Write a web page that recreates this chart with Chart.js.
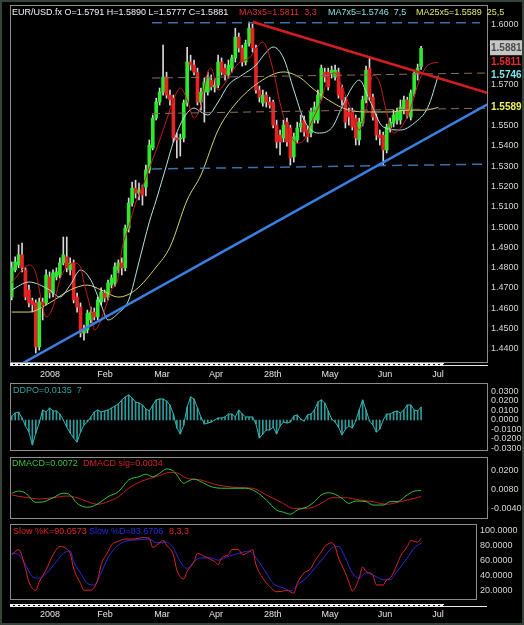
<!DOCTYPE html>
<html>
<head>
<meta charset="utf-8">
<title>EUR/USD.fx</title>
<script src="https://cdn.jsdelivr.net/npm/chart.js@4.4.1/dist/chart.umd.min.js"></script>
<style>
  html, body { margin: 0; padding: 0; background: #000; }
  #wrap { position: relative; width: 524px; height: 625px; background: #000; overflow: hidden; }
  #wrap canvas { position: absolute; left: 0; }
  .t { position: absolute; font: 9px "Liberation Sans", Arial, sans-serif; line-height: 10px; white-space: pre; }
  #edge { position: absolute; left: 0; top: 0; right: 0; bottom: 0; border: 2px solid #34443a; pointer-events: none; }
</style>
</head>
<body>
<div id="wrap">
  <canvas id="cMain" width="524" height="382" style="top:0px"></canvas>
  <canvas id="cDpo" width="524" height="75" style="top:380px"></canvas>
  <canvas id="cMacd" width="524" height="66" style="top:455px"></canvas>
  <canvas id="cStoch" width="524" height="105" style="top:520px"></canvas>

  <div class="t" style="left:12px;top:7px;color:#f2f2f2">EUR/USD.fx O=1.5791 H=1.5890 L=1.5777 C=1.5881</div>
  <div class="t" style="left:239px;top:7px;color:#e03030">MA3x5=1.5811  3,3</div>
  <div class="t" style="left:328px;top:7px;color:#86e2e2">MA7x5=1.5746  7,5</div>
  <div class="t" style="left:416px;top:7px;color:#e6e66c">MA25x5=1.5589  25,5</div>

  <div class="t" style="left:13px;top:385px;color:#2fa3a3">DDPO=0.0135  7</div>
  <div class="t" style="left:12px;top:458px;color:#36c43e">DMACD=0.0072</div>
  <div class="t" style="left:83px;top:458px;color:#d42222">DMACD sig=0.0034</div>
  <div class="t" style="left:13px;top:526px;color:#dd2828">Slow %K=90.0573</div>
  <div class="t" style="left:89px;top:526px;color:#2a2ae0">Slow %D=83.6706</div>
  <div class="t" style="left:169px;top:526px;color:#dd2828">8,3,3</div>
  <div id="edge"></div>
</div>
<script>
// daily bars, oldest first
const opens = [1.4655,1.4789,1.4813,1.4863,1.4789,1.4690,1.4636,1.4626,1.4409,1.4631,
  1.4626,1.4754,1.4675,1.4754,1.4764,1.4823,1.4853,1.4789,1.4823,1.4655,
  1.4606,1.4478,1.4493,1.4542,1.4581,1.4557,1.4631,1.4675,1.4655,1.4714,
  1.4724,1.4789,1.4823,1.4799,1.4995,1.5118,1.5192,1.5167,1.5192,1.5197,
  1.5281,1.5389,1.5537,1.5616,1.5665,1.5739,1.5650,1.5635,1.5439,1.5434,
  1.5439,1.5611,1.5813,1.5798,1.5763,1.5616,1.5665,1.5665,1.5724,1.5690,
  1.5699,1.5813,1.5783,1.5749,1.5783,1.5833,1.5936,1.5882,1.5813,1.5906,
  1.5980,1.5882,1.5675,1.5611,1.5650,1.5616,1.5616,1.5502,1.5453,1.5439,
  1.5517,1.5488,1.5345,1.5429,1.5493,1.5527,1.5478,1.5463,1.5527,1.5527,
  1.5640,1.5763,1.5763,1.5758,1.5739,1.5763,1.5685,1.5626,1.5567,1.5567,
  1.5537,1.5429,1.5512,1.5626,1.5783,1.5640,1.5542,1.5453,1.5453,1.5380,
  1.5488,1.5512,1.5527,1.5527,1.5576,1.5626,1.5542,1.5660,1.5758,1.5791];
const highs = [1.4828,1.4853,1.4912,1.4921,1.4799,1.4714,1.4650,1.4641,1.4650,1.4650,
  1.4789,1.4779,1.4789,1.4799,1.4848,1.4951,1.4951,1.4848,1.4838,1.4675,
  1.4626,1.4517,1.4591,1.4606,1.4601,1.4655,1.4700,1.4690,1.4739,1.4764,
  1.4823,1.4838,1.4848,1.5010,1.5143,1.5222,1.5231,1.5217,1.5207,1.5305,
  1.5429,1.5552,1.5635,1.5685,1.5896,1.5763,1.5675,1.5650,1.5463,1.5458,
  1.5626,1.5886,1.5847,1.5823,1.5783,1.5685,1.5734,1.5763,1.5749,1.5734,
  1.5847,1.5833,1.5803,1.5823,1.5847,1.5980,1.5956,1.5896,1.5921,1.6010,
  1.6000,1.5896,1.5695,1.5675,1.5665,1.5640,1.5626,1.5527,1.5478,1.5527,
  1.5537,1.5502,1.5463,1.5517,1.5552,1.5547,1.5498,1.5586,1.5616,1.5675,
  1.5798,1.5783,1.5783,1.5793,1.5798,1.5783,1.5699,1.5640,1.5586,1.5586,
  1.5552,1.5537,1.5645,1.5793,1.5833,1.5655,1.5557,1.5478,1.5468,1.5507,
  1.5537,1.5576,1.5586,1.5626,1.5645,1.5640,1.5675,1.5773,1.5803,1.5890];
const lows = [1.4641,1.4779,1.4799,1.4779,1.4641,1.4606,1.4581,1.4379,1.4394,1.4542,
  1.4616,1.4650,1.4655,1.4739,1.4749,1.4813,1.4779,1.4764,1.4626,1.4581,
  1.4458,1.4443,1.4478,1.4527,1.4542,1.4542,1.4616,1.4631,1.4641,1.4700,
  1.4709,1.4774,1.4764,1.4784,1.4975,1.5103,1.5143,1.5133,1.5108,1.5153,
  1.5266,1.5380,1.5527,1.5601,1.5650,1.5635,1.5601,1.5419,1.5340,1.5350,
  1.5419,1.5596,1.5773,1.5749,1.5601,1.5576,1.5517,1.5650,1.5675,1.5665,
  1.5685,1.5749,1.5724,1.5734,1.5763,1.5813,1.5862,1.5793,1.5798,1.5891,
  1.5862,1.5660,1.5616,1.5596,1.5591,1.5586,1.5488,1.5389,1.5355,1.5419,
  1.5399,1.5305,1.5320,1.5414,1.5468,1.5448,1.5419,1.5444,1.5512,1.5512,
  1.5626,1.5714,1.5675,1.5734,1.5724,1.5635,1.5601,1.5488,1.5502,1.5478,
  1.5404,1.5404,1.5498,1.5611,1.5626,1.5527,1.5429,1.5404,1.5305,1.5365,
  1.5468,1.5493,1.5507,1.5507,1.5557,1.5537,1.5527,1.5645,1.5724,1.5777];
const closes = [1.4799,1.4828,1.4863,1.4799,1.4655,1.4626,1.4616,1.4409,1.4631,1.4616,
  1.4764,1.4675,1.4774,1.4779,1.4823,1.4863,1.4799,1.4823,1.4641,1.4606,
  1.4478,1.4493,1.4576,1.4581,1.4557,1.4641,1.4680,1.4650,1.4724,1.4749,
  1.4804,1.4823,1.4799,1.4995,1.5118,1.5192,1.5167,1.5182,1.5158,1.5281,
  1.5404,1.5537,1.5616,1.5665,1.5739,1.5650,1.5626,1.5439,1.5429,1.5439,
  1.5611,1.5813,1.5798,1.5763,1.5616,1.5665,1.5714,1.5734,1.5690,1.5699,
  1.5813,1.5763,1.5749,1.5798,1.5833,1.5936,1.5882,1.5813,1.5906,1.5980,
  1.5882,1.5675,1.5640,1.5650,1.5616,1.5601,1.5502,1.5419,1.5419,1.5502,
  1.5419,1.5340,1.5444,1.5488,1.5512,1.5468,1.5444,1.5567,1.5591,1.5650,
  1.5783,1.5739,1.5690,1.5773,1.5773,1.5650,1.5626,1.5517,1.5542,1.5493,
  1.5439,1.5517,1.5626,1.5773,1.5640,1.5542,1.5453,1.5439,1.5380,1.5493,
  1.5517,1.5552,1.5567,1.5591,1.5626,1.5552,1.5660,1.5758,1.5783,1.5881];

const monthNames = ['2008', 'Feb', 'Mar', 'Apr', '28th', 'May', 'Jun', 'Jul'];
const monthAt = [11.1, 27.1, 43.7, 59.4, 75.9, 92.5, 108.5, 123.9];

// displaced moving averages: bar index / value
const ma3Idx = [0,3,5,7,9,10,12,14,16,18,20,21,23,24,25,27,29,31,32,34,36,38,40,42,45,47,49,51,53,55,
  57,58,60,61,63,66,69,73,76,78,80,83,85,87,90,92,94,96,99,101,103,105,107,109,111,114,116,118,121,124];
const ma3Val = [1.4724,1.4788,1.4813,1.4773,1.4606,1.4557,1.4606,1.4739,1.4803,1.4823,
  1.4803,1.4724,1.4591,1.4493,1.4507,1.4591,1.4690,1.4754,1.4887,1.5000,
  1.5118,1.5197,1.5291,1.5379,1.5527,1.5626,1.5685,1.5626,1.5537,1.5601,
  1.5764,1.5783,1.5675,1.5685,1.5739,1.5808,1.5833,1.5911,1.5773,1.5611,
  1.5493,1.5414,1.5429,1.5512,1.5626,1.5739,1.5759,1.5690,1.5562,1.5478,
  1.5576,1.5749,1.5709,1.5562,1.5463,1.5512,1.5586,1.5700,1.5798,1.5811];
const ma7Idx = [0,5,11,14,17,20,23,26,28,31,34,37,40,42,45,47,50,53,55,57,
  60,63,67,71,74,76,79,82,85,89,93,96,99,101,104,108,113,117,121,124];
const ma7Val = [1.4690,1.4729,1.4690,1.4655,1.4714,1.4788,1.4739,1.4616,1.4542,1.4576,
  1.4640,1.4828,1.5025,1.5133,1.5305,1.5419,1.5537,1.5586,1.5567,1.5552,
  1.5616,1.5700,1.5749,1.5798,1.5862,1.5887,1.5833,1.5675,1.5527,1.5463,
  1.5488,1.5591,1.5690,1.5724,1.5626,1.5493,1.5478,1.5512,1.5591,1.5746];
const ma25Idx = [0,5,11,17,22,26,31,36,42,46,51,55,60,65,72,79,84,87,92,98,104,110,115,120,124];
const ma25Val = [1.4581,1.4581,1.4626,1.4690,1.4714,1.4690,1.4655,1.4690,1.4803,1.4901,
  1.5133,1.5256,1.5478,1.5606,1.5714,1.5764,1.5734,1.5690,1.5626,1.5576,
  1.5567,1.5567,1.5576,1.5576,1.5589];

// drawn lines: [bar index, price] end points
const supportLine = [[3.3, 1.4330], [138.45, 1.5606]];
const resistLine = [[70.1, 1.6010], [138.45, 1.5660]];
const topLevel = [[40.8, 1.6007], [136.1, 1.6007]];
const lowLevel = [[40.8, 1.5286], [138.45, 1.5310]];
const midLevel1 = [[40.8, 1.5734], [138.45, 1.5759]];
const midLevel2 = [[40.8, 1.5559], [138.45, 1.5586]];

// DDPO, one value per bar
const ddpo = [0.0042,0.0074,0.0084,0.0021,-0.0063,-0.0126,-0.0263,-0.0137,-0.0032,0.0105,
  0.0084,0.0126,0.0095,0.0095,0.0063,0.0000,-0.0074,-0.0137,-0.0189,-0.0232,
  -0.0126,-0.0053,-0.0021,0.0032,0.0084,0.0105,0.0084,0.0095,0.0105,0.0126,
  0.0147,0.0168,0.0211,0.0242,0.0263,0.0232,0.0189,0.0179,0.0158,0.0116,
  0.0095,0.0158,0.0211,0.0221,0.0221,0.0200,0.0158,0.0063,-0.0084,-0.0147,
  -0.0053,0.0137,0.0242,0.0221,0.0126,0.0032,-0.0042,-0.0032,-0.0021,0.0000,
  0.0021,0.0021,0.0032,0.0063,0.0063,0.0032,0.0105,0.0063,0.0032,0.0032,
  0.0032,-0.0042,-0.0189,-0.0147,-0.0105,-0.0105,-0.0074,-0.0147,-0.0063,-0.0021,
  -0.0032,-0.0021,0.0042,0.0053,0.0011,-0.0011,0.0053,0.0063,0.0105,0.0189,
  0.0211,0.0179,0.0095,0.0011,-0.0021,-0.0074,-0.0158,-0.0095,-0.0063,-0.0084,
  -0.0011,0.0105,0.0211,0.0105,-0.0011,-0.0053,-0.0126,-0.0095,0.0000,0.0063,
  0.0063,0.0084,0.0095,0.0074,0.0105,0.0158,0.0158,0.0105,0.0095,0.0135];

const macdIdx = [0,2,4,7,9,12,15,17,19,22,24,26,28,31,34,37,39,41,43,45,47,48,50,51,53,55,58,61,64,68,
  71,74,77,79,81,83,86,88,90,92,94,96,98,100,103,105,108,110,112,115,117,119];
const macdVal = [0.0055,0.0069,0.0056,-0.0003,-0.0001,0.0026,0.0055,0.0044,-0.0010,-0.0035,
  -0.0025,0.0001,0.0033,0.0065,0.0140,0.0161,0.0177,0.0161,0.0183,0.0211,
  0.0198,0.0172,0.0119,0.0129,0.0146,0.0129,0.0097,0.0087,0.0087,0.0087,
  0.0065,0.0012,-0.0053,-0.0067,-0.0080,-0.0053,-0.0031,0.0001,0.0044,0.0058,
  0.0048,0.0022,-0.0010,0.0005,0.0001,-0.0021,-0.0021,0.0001,0.0001,0.0044,
  0.0069,0.0072];
const sigIdx = [0,2,5,8,12,16,19,22,25,28,31,34,38,42,46,48,51,55,59,63,66,70,74,78,82,86,90,93,97,101,
  105,109,113,117,119];
const sigVal = [0.0044,0.0035,0.0026,0.0018,0.0026,0.0037,0.0026,0.0001,-0.0016,0.0001,
  0.0033,0.0087,0.0134,0.0161,0.0189,0.0185,0.0151,0.0140,0.0112,0.0097,
  0.0091,0.0087,0.0044,0.0001,-0.0042,-0.0042,-0.0010,0.0026,0.0026,0.0012,
  0.0001,-0.0016,0.0001,0.0022,0.0034];

const kIdx = [0,2,4,5,7,8,10,12,14,16,17,18,20,21,23,25,26,28,29,31,33,35,37,38,40,41,43,44,45,47,
  48,50,51,53,54,56,57,59,60,61,63,64,66,67,69,70,71,73,75,77,79,80,82,83,85,87,88,90,91,93,
  94,95,97,98,99,101,102,103,105,106,108,109,110,112,113,115,116,118,119];
const kVal = [68,75,50,32,21,32,48,68,79,76,70,50,30,21,21,35,55,72,81,86,89,89,90,91,90,78,84,87,81,68,
  48,36,46,59,70,66,64,59,55,64,68,75,75,68,72,75,55,37,26,19,20,21,17,30,44,50,59,72,79,84,
  79,64,44,32,20,37,52,46,41,28,28,35,37,55,66,79,87,85,90.06];
const dIdx = [0,2,4,6,8,10,13,15,17,18,20,22,24,26,28,30,32,34,37,40,42,45,47,49,51,53,55,58,60,63,
  66,69,71,74,76,79,81,83,86,88,91,93,95,97,99,101,103,106,108,110,112,115,117,119];
const dVal = [70,68,55,39,37,43,59,70,73,59,44,30,28,44,64,77,84,87,88,89,84,85,77,59,50,59,64,64,61,66,
  70,73,64,44,30,24,20,28,39,50,66,77,79,64,44,37,44,39,35,35,46,64,77,83.67];

Chart.defaults.font.family = '"Liberation Sans", Arial, sans-serif';
Chart.defaults.font.size = 9;
Chart.defaults.color = '#d6d6d6';

const pts = (ix, vs) => ix.map((x, k) => ({ x: x, y: vs[k] }));
const seg = p => p.map(q => ({ x: q[0], y: q[1] }));

// borders and the dashed time strip
const framePlugin = {
  id: 'frame',
  afterDraw(chart, args, o) {
    const ctx = chart.ctx, a = chart.chartArea;
    ctx.save();
    ctx.strokeStyle = '#8c8c8c';
    ctx.lineWidth = 1;
    ctx.strokeRect(a.left + 0.5, a.top + 0.5, a.width - 1, a.height - 1);
    if (o.strip != null) {
      const y = a.bottom + o.strip;
      const xe = chart.scales.x.getPixelForValue(o.stripEnd);
      ctx.fillStyle = '#f0f0f0';
      ctx.fillRect(a.left, y, xe - a.left, 3);
      ctx.fillStyle = '#000';
      for (let x = a.left; x < xe - 3; x += 5) ctx.fillRect(x + 3, y + 1, 2, 1);
      ctx.fillStyle = '#e8e8e8';
      ctx.fillRect(xe, y + 2, o.stripRight - xe, 1);
    }
    ctx.restore();
  }
};

const fixY = w => s => { s.width = w; s.paddingTop = 0; s.paddingBottom = 0; };
const fixX = h => s => { s.height = h; s.paddingLeft = 0; s.paddingRight = 0; };
const tickVal = c => (c && c.tick) ? c.tick.value : NaN;

function xAxis(max, show, h, pad) {
  return {
    type: 'linear', min: -0.5, max: max, offset: false, display: show,
    grid: { display: false, drawTicks: false }, border: { display: false },
    afterBuildTicks: s => { s.ticks = monthAt.map(v => ({ value: v })); },
    afterFit: fixX(h),
    ticks: { autoSkip: false, maxRotation: 0, padding: pad || 6, color: '#e4e4e4',
      callback: (v, i) => monthNames[i] }
  };
}
function yAxis(min, max, vals, w, dec) {
  return {
    position: 'right', min: min, max: max,
    grid: { display: false, drawTicks: false }, border: { display: false },
    afterBuildTicks: s => { s.ticks = vals.map(v => ({ value: v })); },
    afterFit: fixY(w),
    ticks: { autoSkip: false, padding: 3, color: '#d6d6d6', callback: v => v.toFixed(dec) }
  };
}
const base = {
  responsive: false, animation: false, devicePixelRatio: 1,
  plugins: { legend: { display: false }, tooltip: { enabled: false } }
};

// ---------- price panel ----------
const lastClose = closes[closes.length - 1];
const specials = [
  { v: ma25Val[ma25Val.length - 1], c: '#f0f060' },
  { v: ma7Val[ma7Val.length - 1], c: '#7ee6e6' },
  { v: ma3Val[ma3Val.length - 1], c: '#ee2a2a' },
  { v: lastClose, c: '#4a4a4a' }
];
const priceTicks = [1.44, 1.45, 1.46, 1.47, 1.48, 1.49, 1.50, 1.51, 1.52, 1.53, 1.54, 1.55, 1.57, 1.60]
  .concat(specials.map(s => s.v));
const special = v => specials.find(s => Math.abs(s.v - v) < 1e-9);

const yMain = yAxis(1.4330, 1.6094, priceTicks, 36, 4);
yMain.ticks.color = c => { const s = special(tickVal(c)); return s ? s.c : '#d6d6d6'; };
yMain.ticks.font = c => special(tickVal(c)) ? { size: 10, weight: 'bold' } : { size: 9 };
yMain.ticks.showLabelBackdrop = c => Math.abs(tickVal(c) - lastClose) < 1e-9;
yMain.ticks.backdropColor = '#c6c6c6';
yMain.ticks.backdropPadding = { top: 2, bottom: 1, left: 1, right: 2 };

const lineDs = (data, color, width, extra) => Object.assign({
  type: 'line', data: data, borderColor: color, borderWidth: width,
  pointRadius: 0, fill: false, order: 1, cubicInterpolationMode: 'monotone'
}, extra || {});

new Chart(document.getElementById('cMain'), {
  type: 'bar',
  data: { datasets: [
    lineDs(seg(supportLine), '#3a80e4', 2.5, { order: 0 }),
    lineDs(seg(resistLine), '#d41e1e', 2.5, { order: 0 }),
    lineDs(seg(topLevel), '#3d6fae', 1.5, { order: 0, borderDash: [10, 6] }),
    lineDs(seg(lowLevel), '#3d6fae', 1.5, { order: 0, borderDash: [10, 6] }),
    lineDs(seg(midLevel1), '#8a6e5e', 1, { order: 0, borderDash: [8, 5] }),
    lineDs(seg(midLevel2), '#8a6e5e', 1, { order: 0, borderDash: [8, 5] }),
    lineDs(pts(ma3Idx, ma3Val), '#c41c1c', 1),
    lineDs(pts(ma7Idx, ma7Val), '#b0e4e4', 1),
    lineDs(pts(ma25Idx, ma25Val), '#d6d46a', 1),
    {
      data: closes.map((c, i) => ({ x: i, y: [opens[i], c] })),
      backgroundColor: closes.map((c, i) => c >= opens[i] ? '#2ee82e' : '#e62424'),
      borderWidth: 0, barThickness: 3, minBarLength: 1, order: 2
    },
    {
      data: closes.map((c, i) => ({ x: i, y: [lows[i], highs[i]] })),
      backgroundColor: '#d8d8d8', barThickness: 1, order: 3
    }
  ] },
  options: Object.assign({}, base, {
    layout: { padding: { top: 5, left: 10, right: 0, bottom: 0 } },
    datasets: { bar: { grouped: false } },
    plugins: Object.assign({}, base.plugins, { frame: { strip: 0, stripEnd: 125.7, stripRight: 488 } }),
    scales: { x: xAxis(138.45, true, 19, 6), y: yMain }
  }),
  plugins: [framePlugin]
});

// ---------- DDPO ----------
new Chart(document.getElementById('cDpo'), {
  type: 'bar',
  data: { datasets: [
    lineDs(pts(ddpo.map((v, i) => i), ddpo), '#35b4b4', 1, { order: 0, cubicInterpolationMode: 'default', tension: 0 }),
    { data: ddpo.map((v, i) => ({ x: i, y: v })), backgroundColor: '#2f9c9c', barThickness: 1, order: 1 }
  ] },
  options: Object.assign({}, base, {
    layout: { padding: { top: 3, left: 10, right: 0, bottom: 4 } },
    datasets: { bar: { grouped: false } },
    plugins: Object.assign({}, base.plugins, { frame: {} }),
    scales: { x: xAxis(138.45, false, 0),
      y: yAxis(-0.03263, 0.03895, [-0.03, -0.02, -0.01, 0, 0.01, 0.02, 0.03], 36, 4) }
  }),
  plugins: [framePlugin]
});

// ---------- DMACD ----------
new Chart(document.getElementById('cMacd'), {
  type: 'line',
  data: { datasets: [
    lineDs(pts(macdIdx, macdVal), '#33c43c', 1, { order: 0 }),
    lineDs(pts(sigIdx, sigVal), '#c81c1c', 1, { order: 1 })
  ] },
  options: Object.assign({}, base, {
    layout: { padding: { top: 2, left: 10, right: 0, bottom: 2 } },
    plugins: Object.assign({}, base.plugins, { frame: {} }),
    scales: { x: xAxis(138.45, false, 0),
      y: yAxis(-0.01104, 0.02875, [-0.004, 0.008, 0.02], 36, 4) }
  }),
  plugins: [framePlugin]
});

// ---------- Slow stochastic ----------
new Chart(document.getElementById('cStoch'), {
  type: 'line',
  data: { datasets: [
    lineDs(pts(kIdx, kVal), '#dc2626', 1, { order: 0 }),
    lineDs(pts(dIdx, dVal), '#2a2ad8', 1, { order: 1 })
  ] },
  options: Object.assign({}, base, {
    layout: { padding: { top: 4, left: 10, right: 0, bottom: 0 } },
    plugins: Object.assign({}, base.plugins, { frame: { strip: 4, stripEnd: 125.7, stripRight: 487 } }),
    scales: { x: xAxis(135.26, true, 25, 9),
      y: yAxis(8, 109, [20, 40, 60, 80, 100], 47, 4) }
  }),
  plugins: [framePlugin]
});
</script>
</body>
</html>
